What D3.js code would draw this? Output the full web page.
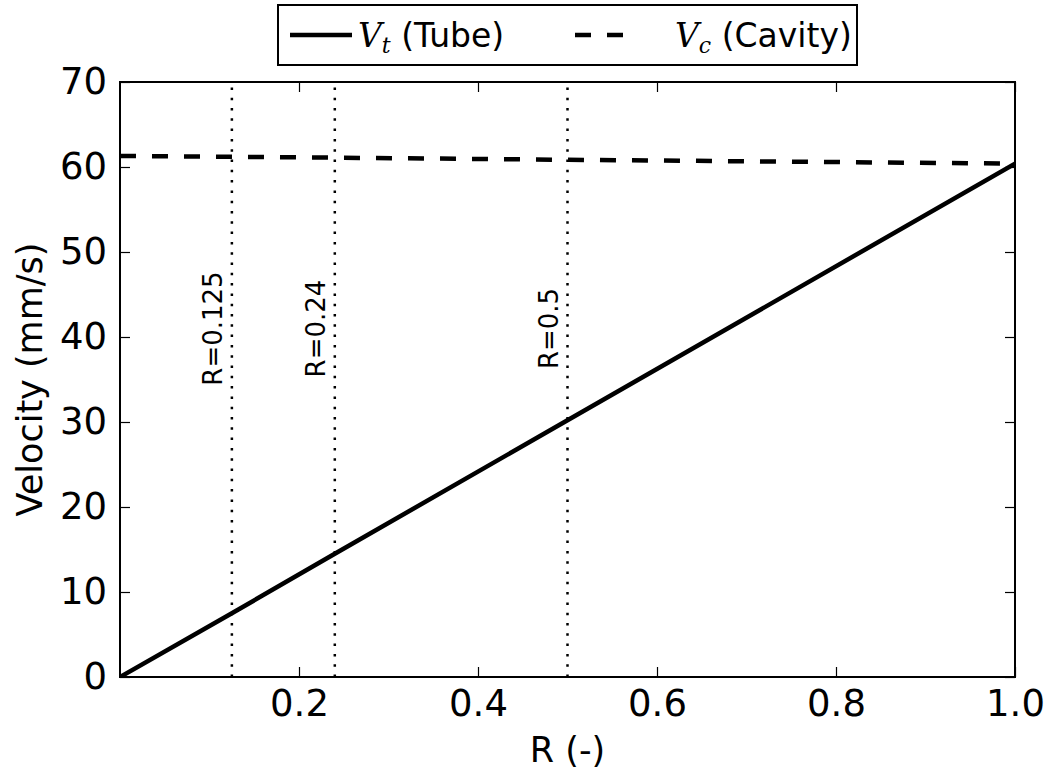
<!DOCTYPE html>
<html>
<head>
<meta charset="utf-8">
<script src="https://cdn.jsdelivr.net/npm/d3@7"></script>
<style>
  body { margin: 0; background: #fff; }
  text { font-family: "DejaVu Sans", sans-serif; fill: #000; }
</style>
</head>
<body>
<svg id="chart" width="1046" height="776"></svg>
<script>
// values
var rVals = [0, 0.125, 0.24, 0.5, 1.0];
var vTube = [0, 7.5, 14.5, 30.2, 60.4];
var vCavity = [61.3, 61.2, 61.1, 60.85, 60.4];
var markers = [0.125, 0.24, 0.5];
var markerLabels = ["R=0.125", "R=0.24", "R=0.5"];
var xTicks = [0.2, 0.4, 0.6, 0.8, 1.0];
var yTicks = [0, 10, 20, 30, 40, 50, 60, 70];

var svg = d3.select("#chart"),
    margin = {left: 120, right: 31, top: 82, bottom: 99},
    width = +svg.attr("width") - margin.left - margin.right,
    height = +svg.attr("height") - margin.top - margin.bottom;

var x = d3.scaleLinear().domain([0, 1]).range([0, width]);
var y = d3.scaleLinear().domain([0, 70]).range([height, 0]);

var g = svg.append("g").attr("transform", "translate(" + margin.left + "," + margin.top + ")");

g.append("clipPath").attr("id", "clip")
  .append("rect").attr("width", width).attr("height", height);

var plot = g.append("g").attr("clip-path", "url(#clip)");

// vertical dotted markers
plot.selectAll(".marker").data(markers).enter()
  .append("line")
  .attr("x1", function(d){ return x(d); })
  .attr("x2", function(d){ return x(d); })
  .attr("y1", height).attr("y2", 0)
  .attr("stroke", "#000")
  .attr("stroke-width", 2.5)
  .attr("stroke-dasharray", "2.5,7.8");

var line = d3.line()
  .x(function(d){ return x(d[0]); })
  .y(function(d){ return y(d[1]); });

plot.append("path")
  .datum(d3.zip(rVals, vTube))
  .attr("d", line)
  .attr("fill", "none")
  .attr("stroke", "#000")
  .attr("stroke-width", 4.5);

plot.append("path")
  .datum(d3.zip(rVals, vCavity))
  .attr("d", line)
  .attr("fill", "none")
  .attr("stroke", "#000")
  .attr("stroke-width", 4.5)
  .attr("stroke-dasharray", "16,16");

// marker labels
g.selectAll(".mlabel").data(markers).enter()
  .append("text")
  .attr("transform", function(d){ return "translate(" + (x(d) - 10) + "," + y(41) + ") rotate(-90)"; })
  .attr("text-anchor", "middle")
  .style("font-size", "26px")
  .text(function(d, i){ return markerLabels[i]; });

// axes with inward ticks on all four sides
var tickLen = 10;
var xAxisB = d3.axisBottom(x).tickValues(xTicks).tickSizeInner(-tickLen).tickSizeOuter(0).tickPadding(13).tickFormat(d3.format(".1f"));
var xAxisT = d3.axisTop(x).tickValues(xTicks).tickSizeInner(-tickLen).tickSizeOuter(0).tickFormat("");
var yAxisL = d3.axisLeft(y).tickValues(yTicks).tickSizeInner(-tickLen).tickSizeOuter(0).tickPadding(13);
var yAxisR = d3.axisRight(y).tickValues(yTicks).tickSizeInner(-tickLen).tickSizeOuter(0).tickFormat("");

function styleAxis(sel) {
  sel.select(".domain").remove();
  sel.selectAll(".tick line").attr("stroke", "#000").attr("stroke-width", 1.2);
  sel.selectAll(".tick text").style("font-size", "37px").style("font-family", "DejaVu Sans");
}

g.append("g").attr("transform", "translate(0," + height + ")").call(xAxisB).call(styleAxis);
g.append("g").call(xAxisT).call(styleAxis);
g.append("g").call(yAxisL).call(styleAxis);
g.append("g").attr("transform", "translate(" + width + ",0)").call(yAxisR).call(styleAxis);

// frame
g.append("rect")
  .attr("width", width).attr("height", height)
  .attr("fill", "none").attr("stroke", "#000").attr("stroke-width", 2);

// axis labels
g.append("text")
  .attr("x", width / 2).attr("y", height + 85)
  .attr("text-anchor", "middle")
  .style("font-size", "35px")
  .text("R (-)");

g.append("text")
  .attr("transform", "translate(" + (-78) + "," + (height / 2) + ") rotate(-90)")
  .attr("text-anchor", "middle")
  .style("font-size", "35px")
  .text("Velocity (mm/s)");

// legend
var leg = svg.append("g");
leg.append("rect")
  .attr("x", 278).attr("y", 5).attr("width", 579).attr("height", 60)
  .attr("fill", "#fff").attr("stroke", "#000").attr("stroke-width", 2);

var legItems = [
  {dash: null, x0: 290, tx: 358, sym: "V", sub: "t", label: " (Tube)"},
  {dash: "16,16", x0: 575, tx: 675, sym: "V", sub: "c", label: " (Cavity)"}
];

legItems.forEach(function(it){
  leg.append("line")
    .attr("x1", it.x0).attr("x2", it.x0 + 62)
    .attr("y1", 35).attr("y2", 35)
    .attr("stroke", "#000").attr("stroke-width", 4.5)
    .attr("stroke-dasharray", it.dash);
  var t = leg.append("text")
    .attr("x", it.tx).attr("y", 47)
    .style("font-size", "33px");
  t.append("tspan")
    .style("font-family", "DejaVu Serif").style("font-style", "italic")
    .text(it.sym);
  t.append("tspan")
    .style("font-family", "DejaVu Serif").style("font-style", "italic")
    .style("font-size", "22px").attr("dy", 6)
    .text(it.sub);
  t.append("tspan").attr("dy", -6).text(it.label);
});
</script>
</body>
</html>
